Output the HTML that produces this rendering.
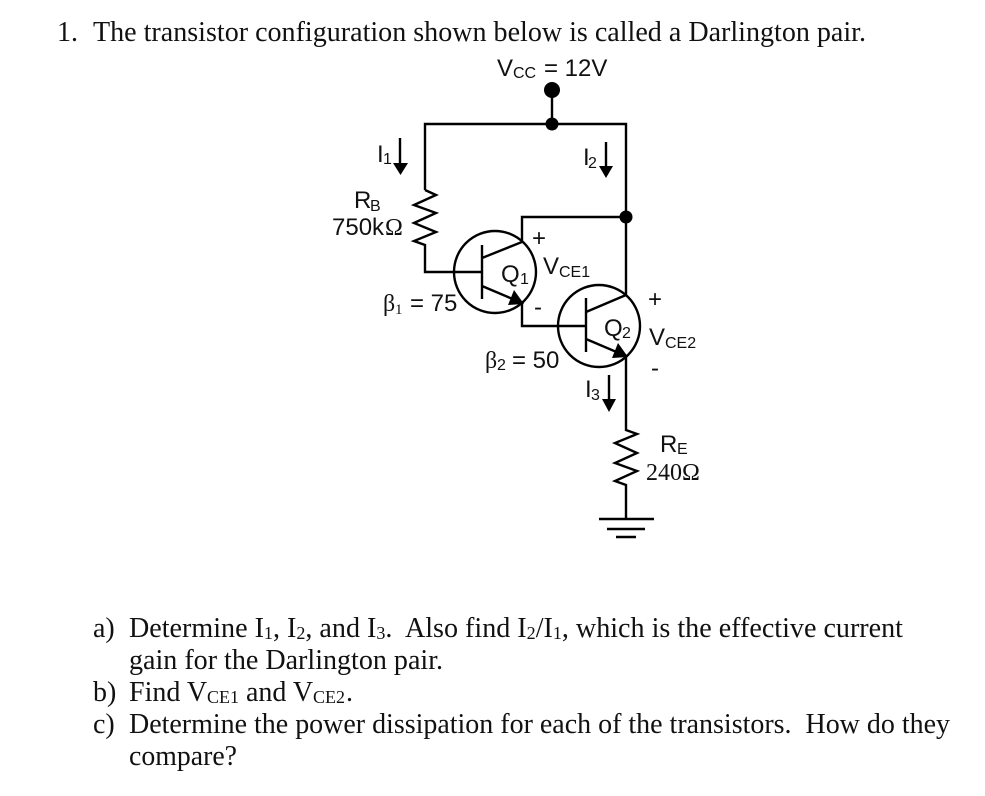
<!DOCTYPE html>
<html><head><meta charset="utf-8"><style>
html,body{margin:0;padding:0;background:#fff}
svg{display:block}
text{white-space:pre}
.s{font-family:"Liberation Serif",serif;font-size:28px;fill:#111}
.u{font-family:"Liberation Serif",serif;font-size:18px;fill:#111}
.a{font-family:"Liberation Sans",sans-serif;font-size:24px;fill:#111}
.b{font-family:"Liberation Sans",sans-serif;font-size:16px;fill:#111}
.g{font-family:"Liberation Serif",serif;font-size:24px;fill:#111}
.w{fill:none;stroke:#000;stroke-width:2.4}
</style></head><body>
<svg width="985" height="796" viewBox="0 0 985 796" xmlns="http://www.w3.org/2000/svg">
<rect width="985" height="796" fill="#fff"/>
<text class="s" x="57" y="41">1.</text>
<text class="s" x="93" y="41" textLength="773" lengthAdjust="spacingAndGlyphs">The transistor configuration shown below is called a Darlington pair.</text>

<text class="a" x="497" y="76">V</text><text class="b" x="513" y="78">CC</text><text class="a" x="544" y="76">= 12V</text>

<g class="w">
<path d="M552 90V124M425 190V124H626V295"/>
<path d="M425 190L436 195L414 205L436 213L414 223L436 232L414 241L425 245V272H482"/>
<circle cx="495" cy="272" r="41"/>
<path d="M482 245V299M482 258L522 242V217H626M482 286L522 303V326H586"/>
<circle cx="599" cy="326" r="41"/>
<path d="M586 298V352M586 312L626 295M586 339L626 356V430L637 434L615 443L637 453L615 463L637 471L615 481L626 485V519"/>
<path d="M599 519H654M607 529H645M616 537H636"/>
<path d="M400 138V165M606 142V168M609 375V400"/>
</g>
<g fill="#000">
<circle cx="552" cy="90" r="8"/><circle cx="552" cy="124" r="6.5"/><circle cx="626" cy="217" r="6.5"/>
<path d="M393 163H408L400.5 175ZM599 166H613L606 178ZM602 399H616L609 412Z"/>
<path d="M524 304L508 305L514 290ZM628 357L612 358L618 343Z"/>
</g>

<text class="a" x="377" y="162">I</text><text class="b" x="383" y="164">1</text>
<text class="a" x="583" y="165">I</text><text class="b" x="588" y="168">2</text>
<text class="a" x="585" y="397">I</text><text class="b" x="591" y="400">3</text>

<text class="a" x="354" y="208">R</text><text class="b" x="370" y="211">B</text>
<text class="a" x="332" y="235">750k</text><text class="g" x="385" y="235">Ω</text>

<text class="a" x="501" y="282">Q</text><text class="b" x="520" y="284">1</text>
<text class="a" x="604" y="336">Q</text><text class="b" x="622" y="338">2</text>
<text class="a" x="532" y="246">+</text>
<text class="a" x="543" y="274">V</text><text class="b" x="559" y="277">CE1</text>
<text class="a" x="534" y="315">-</text>
<text class="a" x="648" y="307">+</text>
<text class="a" x="649" y="345">V</text><text class="b" x="665" y="348">CE2</text>
<text class="a" x="651" y="376">-</text>
<text class="g" x="383" y="311">β</text><text class="u" x="395" y="314" style="font-size:15px">1</text><text class="a" x="410" y="311">= 75</text>
<text class="g" x="485" y="368">β</text><text class="b" x="497" y="370">2</text><text class="a" x="512" y="368">= 50</text>
<text class="a" x="660" y="452">R</text><text class="b" x="677" y="454">E</text>
<text class="g" x="646" y="480">240Ω</text>

<text class="s" x="93" y="637">a)</text>
<text class="s" x="129" y="637" textLength="774" lengthAdjust="spacingAndGlyphs">Determine I<tspan style="font-size:18px" dy="2">1</tspan><tspan dy="-2">, I</tspan><tspan style="font-size:18px" dy="2">2</tspan><tspan dy="-2">, and I</tspan><tspan style="font-size:18px" dy="2">3</tspan><tspan dy="-2">.  Also find I</tspan><tspan style="font-size:18px" dy="2">2</tspan><tspan dy="-2">/I</tspan><tspan style="font-size:18px" dy="2">1</tspan><tspan dy="-2">, which is the effective current</tspan></text>
<text class="s" x="129" y="669" textLength="314" lengthAdjust="spacingAndGlyphs">gain for the Darlington pair.</text>
<text class="s" x="93" y="701">b)</text>
<text class="s" x="129" y="701">Find V</text><text class="u" x="207" y="703">CE1</text><text class="s" x="246" y="701">and V</text><text class="u" x="313" y="703">CE2</text><text class="s" x="346" y="701">.</text>
<text class="s" x="93" y="733">c)</text>
<text class="s" x="129" y="733" textLength="821" lengthAdjust="spacingAndGlyphs">Determine the power dissipation for each of the transistors.  How do they</text>
<text class="s" x="129" y="765" textLength="108" lengthAdjust="spacingAndGlyphs">compare?</text>
</svg>
</body></html>
